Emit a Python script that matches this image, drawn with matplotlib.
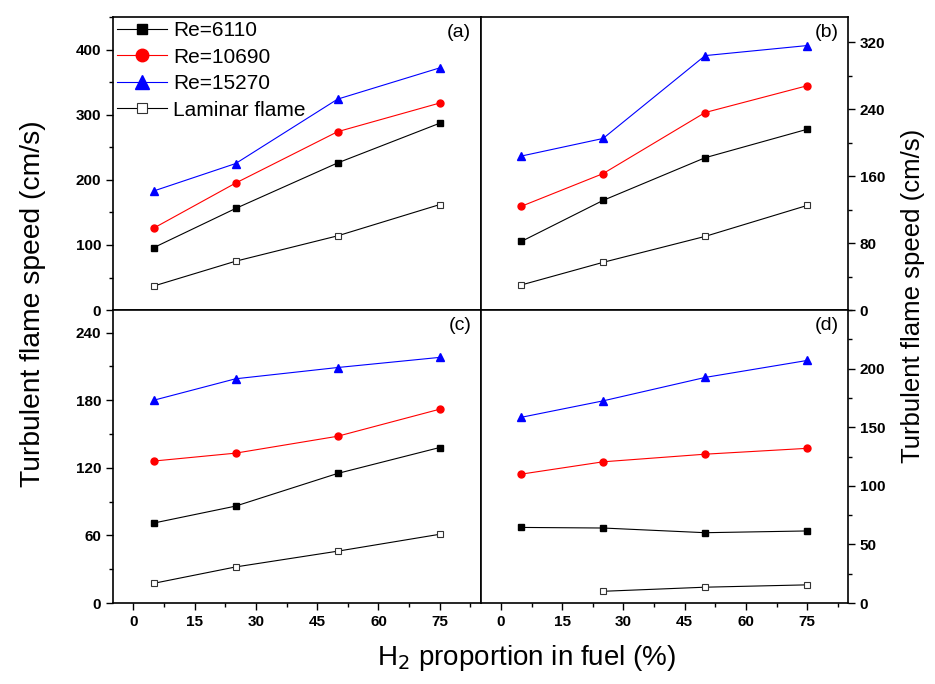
import matplotlib
matplotlib.use("Agg")
import matplotlib.pyplot as plt
from matplotlib.ticker import MultipleLocator, FixedLocator

plt.rcParams['font.family'] = ['Liberation Sans', 'DejaVu Sans']

# H2 proportion in fuel (%)
h2 = [5, 25, 50, 75]
h2_laminar_d = [25, 50, 75]

# panel (a)
a_re6110 = [96, 156, 226, 287]
a_re10690 = [126, 195, 274, 318]
a_re15270 = [183, 225, 324, 372]
a_laminar = [37, 75, 114, 162]

# panel (b)
b_re6110 = [82, 131, 182, 216]
b_re10690 = [124, 163, 236, 268]
b_re15270 = [184, 205, 304, 316]
b_laminar = [30, 57, 88, 125]

# panel (c)
c_re6110 = [71, 86, 115, 138]
c_re10690 = [126, 133, 148, 172]
c_re15270 = [180, 199, 209, 218]
c_laminar = [17.5, 32, 46, 61]

# panel (d)
d_re6110 = [64.5, 64, 60, 61.5]
d_re10690 = [110, 120.5, 127, 132]
d_re15270 = [158.5, 172.5, 192.5, 207]
d_laminar = [10, 13.5, 15.5]

panel_labels = ['(a)', '(b)', '(c)', '(d)']
series_labels = ['Re=6110', 'Re=10690', 'Re=15270', 'Laminar flame']

fig = plt.figure(figsize=(9.35, 6.84), dpi=100)
axs = fig.subplots(2, 2)
fig.subplots_adjust(left=0.1209, right=0.907, top=0.975, bottom=0.1184,
                    wspace=0, hspace=0)

panels = [
    (axs[0, 0], h2, a_re6110, a_re10690, a_re15270, h2, a_laminar, 450, 100, 50, None),
    (axs[0, 1], h2, b_re6110, b_re10690, b_re15270, h2, b_laminar, 350, 80, 40, None),
    (axs[1, 0], h2, c_re6110, c_re10690, c_re15270, h2, c_laminar, 260, 60, 30, None),
    (axs[1, 1], h2, d_re6110, d_re10690, d_re15270, h2_laminar_d, d_laminar, 250, 50, 25,
     [0, 50, 100, 150, 200]),
]

for i, (ax, x, s1, s2, s3, xl, lam, ymax, major, minor, fixed) in enumerate(panels):
    ax.plot(x, s1, color='black', lw=0.8, marker='s', ms=4, label=series_labels[0])
    ax.plot(x, s2, color='red', lw=0.8, marker='o', ms=5, label=series_labels[1])
    ax.plot(x, s3, color='blue', lw=0.8, marker='^', ms=5.5, label=series_labels[2])
    ax.plot(xl, lam, color='black', lw=0.8, marker='s', ms=4, mfc='white',
            mec='#333333', mew=0.8, label=series_labels[3])

    ax.set_xlim(-5, 85)
    ax.set_ylim(0, ymax)
    ax.xaxis.set_major_locator(MultipleLocator(15))
    ax.xaxis.set_minor_locator(MultipleLocator(7.5))
    if fixed is None:
        ax.yaxis.set_major_locator(MultipleLocator(major))
    else:
        ax.yaxis.set_major_locator(FixedLocator(fixed))
    ax.yaxis.set_minor_locator(MultipleLocator(minor))

    for sp in ax.spines.values():
        sp.set_linewidth(1.2)

    ax.tick_params(which='both', direction='out', width=1, top=False)
    ax.tick_params(which='major', length=5, labelsize=11)
    ax.tick_params(which='minor', length=3)

    if i in (1, 3):
        ax.yaxis.tick_right()
        ax.tick_params(axis='y', which='both', left=False, right=True)
    else:
        ax.tick_params(axis='y', which='both', left=True, right=False)
    if i in (0, 1):
        ax.tick_params(axis='x', labelbottom=False)

    for lab in ax.get_xticklabels() + ax.get_yticklabels():
        lab.set_fontweight('bold')

    ax.text(0.975, 0.975, panel_labels[i], transform=ax.transAxes,
            ha='right', va='top', fontsize=14)

axs[0, 0].legend(loc='upper left', bbox_to_anchor=(0, 1), borderaxespad=0,
                 borderpad=0.2, frameon=False, fontsize=15, markerscale=1.8,
                 handlelength=2.4, handletextpad=0.3, labelspacing=0.36)

fig.text(0.035, 0.556, 'Turbulent flame speed (cm/s)', rotation=90,
         ha='center', va='center', fontsize=20.3)
fig.text(0.977, 0.567, 'Turbulent flame speed (cm/s)', rotation=90,
         ha='center', va='center', fontsize=18.5)
fig.text(0.563, 0.038, 'H$_2$ proportion in fuel (%)', ha='center',
         va='center', fontsize=20)

fig.savefig('out.png', dpi=100, facecolor='white')
